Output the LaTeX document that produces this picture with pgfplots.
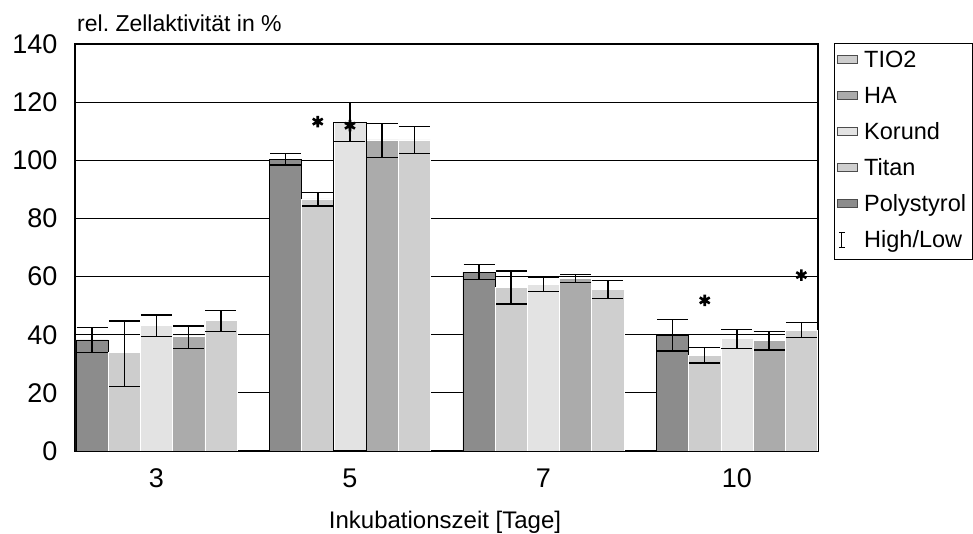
\documentclass[border=0pt]{standalone}
\usepackage{pgfplots}
\pgfplotsset{compat=1.18}
\usepackage{pgfplotstable}
\usepackage{fontspec}
\setmainfont{Liberation Sans}
\definecolor{cPoly}{HTML}{8C8C8C}
\definecolor{cTio}{HTML}{CDCDCD}
\definecolor{cKor}{HTML}{E3E3E3}
\definecolor{cHA}{HTML}{ABABAB}
\definecolor{cTitan}{HTML}{CFCFCF}

\pgfplotstableread{
x y hi lo
0 38.2 42.5 33.9
1 100.2 102.4 98.4
2 61.5 64.2 59.0
3 39.8 45.3 34.4
}\poly
\pgfplotstableread{
x y hi lo
0 33.9 44.7 22.2
1 86.7 88.9 84.2
2 56.3 61.9 50.6
3 33.0 35.6 30.2
}\tio
\pgfplotstableread{
x y hi lo
0 43.2 46.8 39.4
1 113.1 119.8 106.4
2 57.3 59.7 54.8
3 38.7 41.8 35.3
}\kor
\pgfplotstableread{
x y hi lo
0 39.6 43.0 35.3
1 107.0 112.7 100.9
2 59.5 60.7 57.9
3 38.0 41.1 34.8
}\ha
\pgfplotstableread{
x y hi lo
0 45.0 48.4 41.1
1 107.0 111.6 102.4
2 55.6 58.7 52.4
3 41.6 44.2 39.1
}\titan
\pgfplotstableread{
x y
0.8336 113.3
1.0 111.9
2.8336 51.8
3.3328 60.5
}\stars

\pgfplotsset{
  mybar/.style={ybar, bar width=32.2pt, bar shift=0pt, forget plot,
    error bars/y dir=both, error bars/y explicit,
    error bars/error bar style={line width=1.5pt, black},
    error bars/error mark options={rotate=90, mark size=15.5pt, line width=1.5pt, black}},
  sw/.style={legend image code/.code={\path (0pt,0pt) (23pt,0pt);\draw[fill=#1, draw=black!70, line width=0.6pt] (0pt,-2pt) rectangle (20pt,6pt);}},
}

\begin{document}
\frenchspacing
\begin{tikzpicture}
\useasboundingbox (-75pt,-83pt) rectangle (898pt,451pt);
\begin{axis}[
  scale only axis, width=743pt, height=407pt,
  xmin=-0.421, xmax=3.419, ymin=0, ymax=140,
  ytick={0,20,...,140}, xtick={0,1,2,3}, xticklabels={3,5,7,10},
  ymajorgrids, grid style={black, line width=1pt},
  major tick length=0pt,
  axis line style={line width=1.6pt},
  tick label style={font=\fontsize{27}{30}\selectfont},
  /pgf/number format/assume math mode=true,
  yticklabel style={xshift=-14pt},
  xticklabel style={yshift=-14pt},
  legend style={at={(axis description cs:1.0215,1.0025)}, anchor=north west,
    draw=black, line width=0.8pt, inner ysep=0pt, inner xsep=3pt, row sep=0pt,
    font=\fontsize{23.5}{27}\selectfont,
    nodes={inner ysep=8pt, inner xsep=3pt, text height=16.5pt, text depth=3.5pt}},
  legend cell align=left,
]
\addplot[mybar, fill=cPoly, draw=black, line width=0.8pt]
  table[x expr=\thisrow{x}-0.3328, y=y, y error plus expr={\thisrow{hi}-\thisrow{y}}, y error minus expr={\thisrow{y}-\thisrow{lo}}] {\poly};
\addplot[mybar, fill=cTio, draw=white, line width=0.5pt]
  table[x expr=\thisrow{x}-0.1664, y=y, y error plus expr={\thisrow{hi}-\thisrow{y}}, y error minus expr={\thisrow{y}-\thisrow{lo}}] {\tio};
\addplot[mybar, fill=cKor, draw=white, line width=0.5pt]
  table[x expr=\thisrow{x}, y=y, y error plus expr={\thisrow{hi}-\thisrow{y}}, y error minus expr={\thisrow{y}-\thisrow{lo}}] {\kor};
\addplot[mybar, fill=cHA, draw=white, line width=0.5pt]
  table[x expr=\thisrow{x}+0.1664, y=y, y error plus expr={\thisrow{hi}-\thisrow{y}}, y error minus expr={\thisrow{y}-\thisrow{lo}}] {\ha};
\addplot[mybar, fill=cTitan, draw=white, line width=0.5pt]
  table[x expr=\thisrow{x}+0.3328, y=y, y error plus expr={\thisrow{hi}-\thisrow{y}}, y error minus expr={\thisrow{y}-\thisrow{lo}}] {\titan};
% outlined box (Korund, day 5)
\addplot[ybar, bar width=32.2pt, bar shift=0pt, fill=none, draw=black, line width=1pt, forget plot]
  coordinates {(1,113.1)};
\addplot[only marks, mark=asterisk, mark size=5.8pt, line width=2.6pt, black, forget plot]
  table[x=x, y=y] {\stars};

\addlegendimage{sw=cTio}
\addlegendentry{TIO2}
\addlegendimage{sw=cHA}
\addlegendentry{HA}
\addlegendimage{sw=cKor}
\addlegendentry{Korund}
\addlegendimage{sw=cTitan}
\addlegendentry{Titan}
\addlegendimage{sw=cPoly}
\addlegendentry{Polystyrol}
\addlegendimage{legend image code/.code={\path (0pt,0pt) (23pt,0pt);\draw[black, line width=0.7pt] (4pt,-5.5pt) -- (4pt,9.5pt) (1pt,9.5pt) -- (7pt,9.5pt) (1pt,-5.5pt) -- (7pt,-5.5pt);}}
\addlegendentry{High/Low}
\end{axis}
\node[anchor=base west, inner sep=0pt, font=\fontsize{23}{27}\selectfont] at (2pt,419pt) {rel. Zellaktivität in \%};
\node[anchor=base, inner sep=0pt, font=\fontsize{24}{28}\selectfont] at (370pt,-78pt) {Inkubationszeit [Tage]};
\end{tikzpicture}
\end{document}
